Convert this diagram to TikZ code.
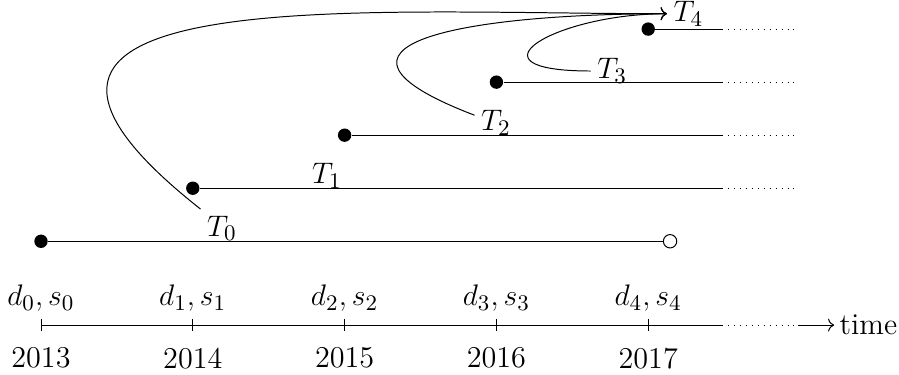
\documentclass[tikz,border=0pt]{standalone}
\usepackage{amsmath}
\usetikzlibrary{arrows.meta,positioning,calc}

\begin{document}
\begin{tikzpicture}[every node/.style={font=\fontsize{12.2}{14.5}\selectfont},
  filleddot/.style={circle,fill=black,inner sep=0pt,minimum size=1.9mm},
  opendot/.style={circle,draw=black,fill=white,inner sep=0pt,minimum size=1.9mm},
  tlabel/.style={inner sep=2.5pt},
  link/.style={->}]
\useasboundingbox (-0.582,-0.696) rectangle (12.18,4.615);
% time axis
\foreach \i/\yr in {0/2013,1/2014,2/2015,3/2016,4/2017} {
  \coordinate (tick\i) at (\i*2.155,0);
  \draw ($(tick\i)+(0,-0.085)$) -- ($(tick\i)+(0,0.085)$);
  \node (ds\i) at (\i*2.155,0.38) {$d_\i, s_\i$};
  \node (yr\i) at (\i*2.155,-0.47) {\yr};
}
\coordinate (axisend) at (9.67,0);
\coordinate (dotend) at (10.74,0);
\coordinate (arrowend) at (11.26,0);
\draw (tick0) -- (axisend);
\draw[dotted] (axisend) -- (dotend);
\draw[link] (dotend) -- (arrowend) node[right,inner sep=2pt] (timelbl) {time};
% periods
\node[filleddot] (s0) at (0,1.19) {};
\node[opendot] (e0) at (8.93,1.19) {};
\draw (s0) -- (e0);
\foreach \i in {1,...,4} {
  \node[filleddot] (s\i) at (\i*2.155,1.19+0.753*\i) {};
  \coordinate (c\i) at (9.67,1.19+0.753*\i);
  \coordinate (f\i) at (10.74,1.19+0.753*\i);
  \draw (s\i) -- (c\i);
  \draw[dotted] (c\i) -- (f\i);
}
\node[tlabel] (t0) at (2.57,1.377) {$T_0$};
\node[tlabel] (t1) at (4.06,2.116) {$T_1$};
\node[tlabel] (t2) at (6.46,2.868) {$T_2$};
\node[tlabel] (t3) at (8.11,3.607) {$T_3$};
\node[tlabel] (t4) at (9.19,4.42) {$T_4$};
\draw[link] (t0.north west) .. controls (-1.86,4.90) and (4.53,4.42) .. (t4.west);
\draw[link] (t2.160) .. controls (3.54,3.98) and (6.02,4.42) .. (t4.west);
\draw[link] (t3.west) .. controls (5.95,3.607) and (7.30,4.42) .. (t4.west);
\end{tikzpicture}
\end{document}
